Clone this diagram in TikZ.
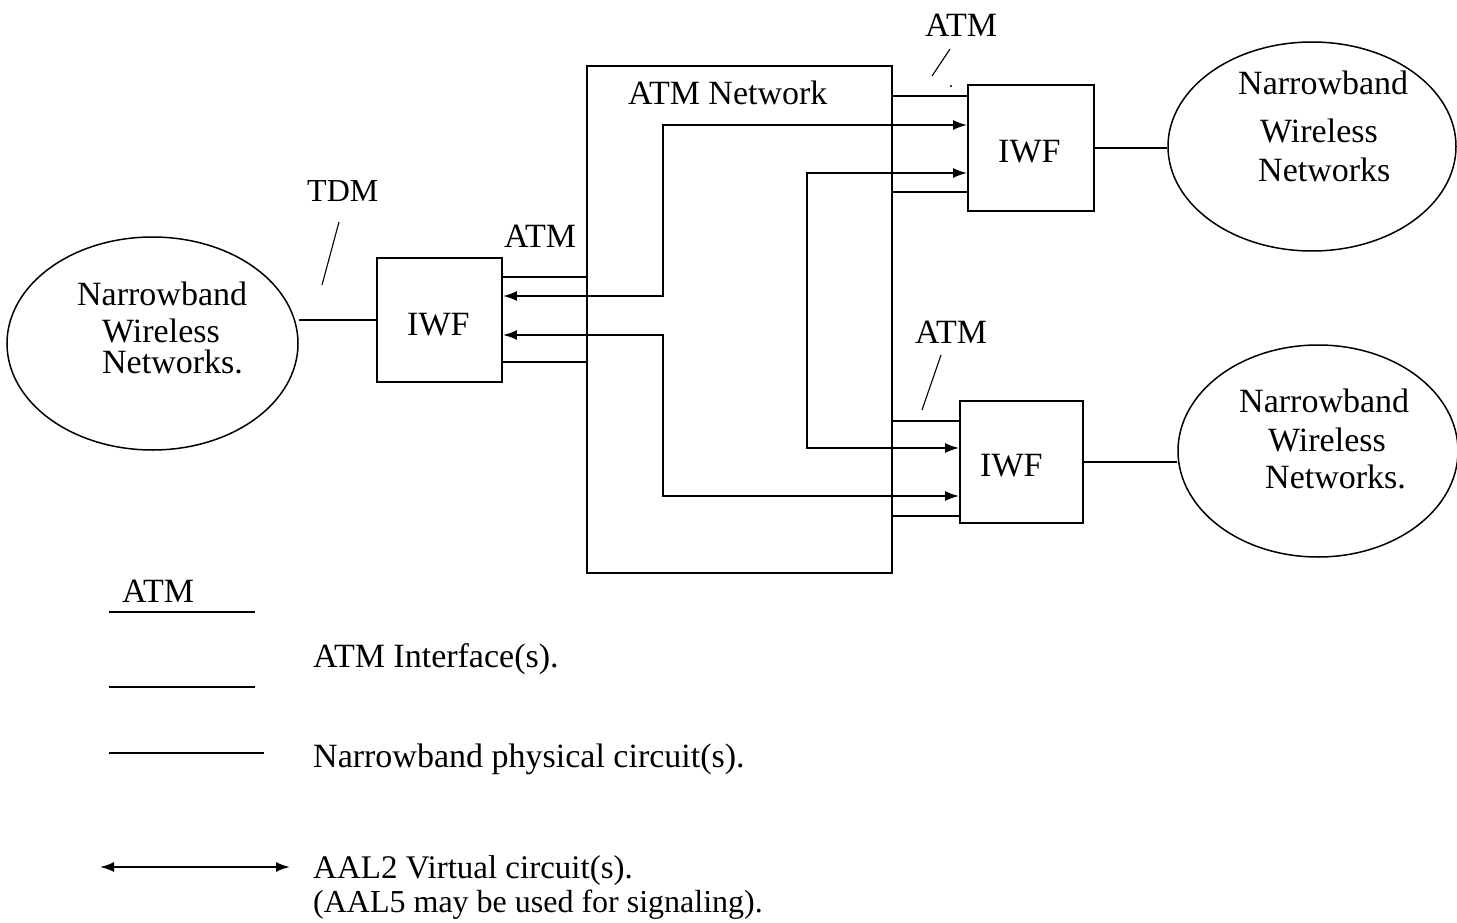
\documentclass[tikz,border=0pt]{standalone}
\usepackage{fontspec}
\setmainfont{Liberation Serif}
\usetikzlibrary{arrows.meta,shapes.geometric}
\begin{document}
\begin{tikzpicture}[x=1pt,y=-1pt,
  line/.style={line width=1.9pt},
  iwfbox/.style={draw,line width=1.9pt,rectangle,inner sep=0pt},
  cloud/.style={draw,ellipse,line width=1.5pt,inner sep=0pt},
  txt/.style={anchor=base west,inner sep=0pt,font=\fontsize{34}{40}\selectfont},
  aal/.style={line width=1.9pt,{Latex[length=14pt,width=10pt]}-{Latex[length=14pt,width=10pt]}},
  pointer/.style={line width=1.1pt}]
\fill[white] (0,0) rectangle (1457,923);
\useasboundingbox (0,0) rectangle (1457,923);

% boxes
\node[iwfbox,minimum width=125pt,minimum height=124pt] (L) at (439.5,320) {};
\node[iwfbox,minimum width=126pt,minimum height=126pt] (TR) at (1031,148) {};
\node[iwfbox,minimum width=123pt,minimum height=122pt] (BR) at (1021.5,462) {};
\node[txt] (Ltxt) at (407,335) {IWF};
\node[txt] (TRtxt) at (998,163) {IWF};
\node[txt] (BRtxt) at (980,476) {IWF};
\node[draw,line width=1.9pt,inner sep=0pt,minimum width=305pt,minimum height=507pt] (net) at (739.5,319.5) {};
\node[txt] (netlbl) at (628,105) {ATM Network};

% ellipses
\node[cloud,minimum width=291pt,minimum height=213pt] (LE) at (152.5,343.5) {};
\node[cloud,minimum width=288pt,minimum height=209pt] (TE) at (1312,146.5) {};
\node[cloud,minimum width=280pt,minimum height=212pt] (BE) at (1318,451) {};

\node[txt] (le1) at (77,305) {Narrowband};
\node[txt] (le2) at (102,342) {Wireless};
\node[txt] (le3) at (102,373) {Networks.};
\node[txt] (te1) at (1238,95) {Narrowband};
\node[txt] (te2) at (1260,143) {Wireless};
\node[txt] (te3) at (1258,182) {Networks};
\node[txt] (be1) at (1239,412) {Narrowband};
\node[txt] (be2) at (1268,451) {Wireless};
\node[txt] (be3) at (1265,488) {Networks.};

% labels and pointers
\node[txt,font=\fontsize{32}{38}\selectfont] (tdm) at (307,201) {TDM};
\node[txt] (atmL) at (504,247) {ATM};
\node[txt] (atmT) at (925,37) {ATM};
\node[txt] (atmB) at (915,343) {ATM};
\coordinate (p1a) at (339,222); \coordinate (p1b) at (322,285);
\coordinate (p2a) at (950,49);  \coordinate (p2b) at (932,76);
\coordinate (p3a) at (941,355); \coordinate (p3b) at (922,410);
\draw[pointer] (p1a) -- (p1b);
\draw[pointer] (p2a) -- (p2b);
\draw[pointer] (p3a) -- (p3b);
\fill (951,86) circle (1.1pt);

% narrowband physical circuits
\draw[line] (L.west) -- (L.west -| LE.east);
\draw[line] (TR.east) -- (TR.east -| TE.west);
\draw[line] (BR.east) -- (BR.east -| BE.west);

% ATM interfaces
\coordinate (Li1) at ([yshift=43pt]L.east);
\coordinate (Li2) at ([yshift=-42pt]L.east);
\coordinate (Ti1) at ([yshift=52pt]TR.west);
\coordinate (Ti2) at ([yshift=-44pt]TR.west);
\coordinate (Bi1) at ([yshift=41pt]BR.west);
\coordinate (Bi2) at ([yshift=-54pt]BR.west);
\draw[line] (Li1) -- (Li1 -| net.west);
\draw[line] (Li2) -- (Li2 -| net.west);
\draw[line] (Ti1) -- (Ti1 -| net.east);
\draw[line] (Ti2) -- (Ti2 -| net.east);
\draw[line] (Bi1) -- (Bi1 -| net.east);
\draw[line] (Bi2) -- (Bi2 -| net.east);

% AAL2 virtual circuits
\coordinate (xa) at (663,0);
\coordinate (xc) at (807,0);
\coordinate (La) at ([yshift=24pt]L.east);
\coordinate (Lb) at ([yshift=-15pt]L.east);
\coordinate (TRa) at ([yshift=23pt]TR.west);
\coordinate (TRb) at ([yshift=-25pt]TR.west);
\coordinate (BRa) at ([yshift=14pt]BR.west);
\coordinate (BRb) at ([yshift=-34pt]BR.west);
\draw[aal] (La) -| (xa |- TRa) -- (TRa);
\draw[aal] (Lb) -| (xa |- BRb) -- (BRb);
\draw[aal] (TRb) -| (xc |- BRa) -- (BRa);

% legend
\node[txt] (lgatm) at (122,602) {ATM};
\coordinate (g1a) at (109,612); \coordinate (g1b) at (255,612);
\coordinate (g2a) at (109,687); \coordinate (g2b) at (255,687);
\coordinate (g3a) at (109,753); \coordinate (g3b) at (264,753);
\coordinate (g4a) at (100,867); \coordinate (g4b) at (290,867);
\draw[line] (g1a) -- (g1b);
\draw[line] (g2a) -- (g2b);
\draw[line] (g3a) -- (g3b);
\draw[aal] (g4a) -- (g4b);
\node[txt] (lg1) at (313,667) {ATM Interface(s).};
\node[txt] (lg2) at (313,767) {Narrowband physical circuit(s).};
\node[txt,font=\fontsize{33}{38}\selectfont] (lg3) at (313,878) {AAL2 Virtual circuit(s).};
\node[txt,font=\fontsize{32}{38}\selectfont] (lg4) at (313,912) {(AAL5 may be used for signaling).};
\end{tikzpicture}
\end{document}
